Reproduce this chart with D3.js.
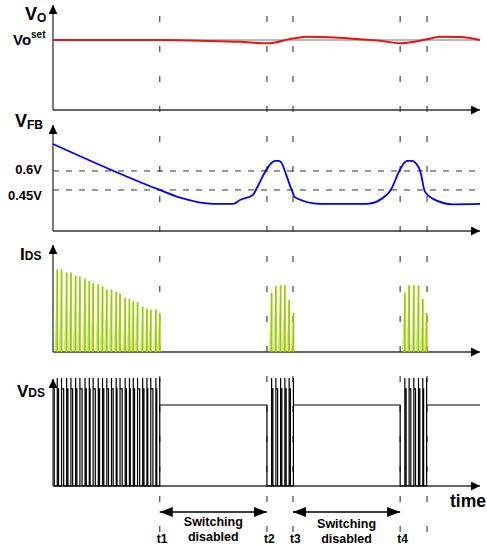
<!DOCTYPE html>
<html>
<head>
<meta charset="utf-8">
<script src="https://cdn.jsdelivr.net/npm/d3@7"></script>
<style>
  body { margin: 0; background: #fff; }
  svg { display: block; font-family: Arial, "Liberation Sans", sans-serif; font-weight: bold; }
</style>
</head>
<body>
<svg id="chart" width="487" height="545"></svg>
<script>
// time runs 0..100 (arbitrary units) along every panel
var markers = [25, 50.1, 56.2, 81.3, 87.6];
var markerLabels = ["t1", "t2", "t3", "t4"];

// output voltage vs. its set point (1 = Vo set)
var voTime  = [0, 25, 34.4, 43.8, 50.1, 56.2, 59.5, 64.9, 71.9, 76.6, 81.3, 87.6, 90.6, 95.3, 100];
var voValue = [1.0, 1.0, 0.99, 0.975, 0.953, 1.02, 1.045, 1.04, 1.01, 0.99, 0.953, 1.01, 1.047, 1.043, 1.0];

// feedback voltage (V)
var fbTime  = [0, 25, 30, 37.5, 42.2, 43.8, 46.8, 47.5, 49.8, 51.2, 52.0, 52.9, 53.6, 54.3, 55.9, 56.7, 62.5,
               73.5, 78.1, 79.1, 81.1, 82.3, 82.9, 84.2, 85.0, 86.0, 87.1, 89.1, 93.7, 100];
var fbValue = [0.813, 0.45, 0.387, 0.34, 0.34, 0.371, 0.41, 0.45, 0.6, 0.665, 0.68, 0.68, 0.66, 0.6, 0.45, 0.39, 0.34,
               0.34, 0.41, 0.45, 0.6, 0.665, 0.68, 0.68, 0.66, 0.6, 0.437, 0.378, 0.337, 0.34];
var fbTicks = [0.6, 0.45];

// drain current pulses: turn-off time and peak (relative)
var idsTime1 = [1.0, 2.0, 3.2, 4.2, 5.3, 6.3, 7.5, 8.5, 9.4, 10.6, 11.6, 12.6, 13.7, 14.8, 15.7, 16.9, 17.9, 18.8, 19.8, 21.0, 22.0, 22.9, 24.1, 25.0];
var idsPeak1 = [0.78, 0.78, 0.75, 0.75, 0.72, 0.71, 0.69, 0.67, 0.65, 0.64, 0.62, 0.59, 0.59, 0.57, 0.55, 0.51, 0.50, 0.48, 0.47, 0.43, 0.41, 0.40, 0.40, 0.37];
var idsTime2 = [51.2, 52.2, 53.3, 54.3, 55.3, 56.3];
var idsPeak2 = [0.56, 0.62, 0.63, 0.63, 0.49, 0.37];
var idsTime3 = [82.4, 83.4, 84.5, 85.6, 86.6, 87.5];
var idsPeak3 = [0.56, 0.63, 0.63, 0.63, 0.50, 0.37];
var onTime = 0.7;

// drain voltage levels (relative)
var vdsHigh = 0.9, vdsSpike = 1.0, vdsRest = 0.75;

var switchText = ["Switching", "disabled"];

var svg = d3.select("#chart");
var left = 53, right = 480;

var x = d3.scaleLinear().domain([0, 100]).range([left, right]);
var yVo = d3.scaleLinear().domain([0, 1.5]).range([110, 5]);
var yFb = d3.scaleLinear().domain([0.126, 0.955]).range([231, 126]);
var yIds = d3.scaleLinear().domain([0, 1]).range([352, 246]);
var yVds = d3.scaleLinear().domain([0, 1]).range([486, 378]);

var defs = svg.append("defs");
defs.append("marker").attr("id", "ax")
    .attr("markerUnits", "userSpaceOnUse")
    .attr("markerWidth", 10).attr("markerHeight", 10)
    .attr("refX", 9).attr("refY", 4.5).attr("orient", "auto")
  .append("path").attr("d", "M0,0 L9,4.5 L0,9 Z").attr("fill", "#000");
defs.append("marker").attr("id", "big")
    .attr("markerUnits", "userSpaceOnUse")
    .attr("markerWidth", 14).attr("markerHeight", 11)
    .attr("refX", 13).attr("refY", 5).attr("orient", "auto-start-reverse")
  .append("path").attr("d", "M0,0 L13,5 L0,10 Z").attr("fill", "#000");

// vertical time markers
svg.selectAll(".marker")
    .data(markers)
  .enter().append("line")
    .attr("class", "marker")
    .attr("x1", function(d) { return x(d); })
    .attr("x2", function(d) { return x(d); })
    .attr("y1", 16).attr("y2", 545)
    .attr("stroke", "#444").attr("stroke-width", 1.2)
    .attr("stroke-dasharray", "6,24");

// axes with arrowheads
var panels = [{top: 5, bottom: 110}, {top: 125, bottom: 231}, {top: 245, bottom: 352}, {top: 379, bottom: 486}];
panels.forEach(function(p) {
  svg.append("line")
      .attr("x1", left).attr("x2", left).attr("y1", p.bottom).attr("y2", p.top)
      .attr("stroke", "#333").attr("stroke-width", 1.3).attr("marker-end", "url(#ax)");
  svg.append("line")
      .attr("x1", left).attr("x2", right).attr("y1", p.bottom).attr("y2", p.bottom)
      .attr("stroke", "#333").attr("stroke-width", 1.3).attr("marker-end", "url(#ax)");
});

// Vo panel
svg.append("line")
    .attr("x1", left).attr("x2", right).attr("y1", yVo(1)).attr("y2", yVo(1))
    .attr("stroke", "#777").attr("stroke-width", 1);
var voData = voTime.map(function(t, i) { return [t, voValue[i]]; });
svg.append("path")
    .datum(voData)
    .attr("fill", "none").attr("stroke", "#ee1111").attr("stroke-width", 2)
    .attr("d", d3.line()
      .x(function(d) { return x(d[0]); })
      .y(function(d) { return yVo(d[1]); })
      .curve(d3.curveMonotoneX));

// VFB panel
svg.selectAll(".fbgrid")
    .data(fbTicks)
  .enter().append("line")
    .attr("class", "fbgrid")
    .attr("x1", left).attr("x2", right)
    .attr("y1", function(d) { return yFb(d); })
    .attr("y2", function(d) { return yFb(d); })
    .attr("stroke", "#333").attr("stroke-width", 1)
    .attr("stroke-dasharray", "6,7");
var fbAxis = svg.append("g")
    .attr("transform", "translate(" + left + ",0)")
    .call(d3.axisLeft(yFb).tickValues(fbTicks).tickSize(0).tickPadding(11)
      .tickFormat(function(d) { return d + "V"; }));
fbAxis.select(".domain").remove();
fbAxis.selectAll("text")
    .attr("font-size", 13).attr("font-weight", "bold").attr("fill", "#000")
    .attr("font-family", "Arial, 'Liberation Sans', sans-serif")
    .attr("dy", function(d, i) { return i === 0 ? "0.2em" : "0.75em"; });

var fbData = fbTime.map(function(t, i) { return [t, fbValue[i]]; });
svg.append("path")
    .datum(fbData)
    .attr("fill", "none").attr("stroke", "#0000ff").attr("stroke-width", 1.8)
    .attr("d", d3.line()
      .x(function(d) { return x(d[0]); })
      .y(function(d) { return yFb(d[1]); })
      .curve(d3.curveMonotoneX));

// IDS panel
var idsData = [];
[[idsTime1, idsPeak1], [idsTime2, idsPeak2], [idsTime3, idsPeak3]].forEach(function(b) {
  b[0].forEach(function(t, i) { idsData.push({t: t, peak: b[1][i]}); });
});
svg.selectAll(".ramp")
    .data(idsData)
  .enter().append("path")
    .attr("class", "ramp")
    .attr("d", function(d) {
      return "M" + x(d.t - onTime) + "," + yIds(0) + "L" + x(d.t) + "," + yIds(d.peak) + "L" + x(d.t) + "," + yIds(0) + "Z";
    })
    .attr("fill", "#99cc00").attr("fill-opacity", 0.45);
svg.selectAll(".spike")
    .data(idsData)
  .enter().append("line")
    .attr("class", "spike")
    .attr("x1", function(d) { return x(d.t); })
    .attr("x2", function(d) { return x(d.t); })
    .attr("y1", yIds(0))
    .attr("y2", function(d) { return yIds(d.peak); })
    .attr("stroke", "#99cc00").attr("stroke-width", 1.8);

// VDS panel
var vdsPts = [[0, vdsHigh]];
function addBurst(times) {
  times.forEach(function(t) {
    var lvl = vdsPts[vdsPts.length - 1][1];
    vdsPts.push([t - onTime, lvl], [t - onTime, 0], [t, 0], [t, vdsSpike], [t, vdsHigh]);
  });
  vdsPts.push([times[times.length - 1], vdsRest]);
}
addBurst(idsTime1);
vdsPts.push([markers[1], vdsRest], [markers[1], 0]);
addBurst(idsTime2);
vdsPts.push([markers[3], vdsRest], [markers[3], 0]);
addBurst(idsTime3);
vdsPts.push([100, vdsRest]);

svg.append("path")
    .datum(vdsPts)
    .attr("fill", "none").attr("stroke", "#000").attr("stroke-width", 1.2)
    .attr("d", d3.line()
      .x(function(d) { return x(d[0]); })
      .y(function(d) { return yVds(d[1]); }));

// switching disabled arrows
var gaps = [[markers[0], markers[1], 526], [markers[2], markers[3], 528]];
gaps.forEach(function(g) {
  svg.append("line")
      .attr("x1", x(g[0])).attr("x2", x(g[1])).attr("y1", 512).attr("y2", 512)
      .attr("stroke", "#000").attr("stroke-width", 1.5)
      .attr("marker-start", "url(#big)").attr("marker-end", "url(#big)");
  var cx = (x(g[0]) + x(g[1])) / 2;
  switchText.forEach(function(s, i) {
    svg.append("text")
        .attr("x", cx).attr("y", g[2] + i * 14.5)
        .attr("text-anchor", "middle").attr("font-size", 12.5)
        .text(s);
  });
});

// t labels
svg.selectAll(".tlab")
    .data(markerLabels)
  .enter().append("text")
    .attr("class", "tlab")
    .attr("x", function(d, i) { return x(markers[i]) - 3; })
    .attr("y", 543)
    .attr("font-size", 12)
    .text(function(d) { return d; });

// panel titles
function title(xp, yp, main, sub, mainSize, subSize, dy) {
  var t = svg.append("text").attr("x", xp).attr("y", yp);
  t.append("tspan").attr("font-size", mainSize).text(main);
  t.append("tspan").attr("font-size", subSize).attr("dy", dy).text(sub);
}
title(25, 20, "V", "O", 18, 12, 2);
title(13, yVo(1) + 5, "Vo", "set", 15, 10, -7);
title(15, 127, "V", "FB", 18, 12, 2);
title(20, 260, "I", "DS", 17, 12, 0);
title(17, 397, "V", "DS", 17, 12, 0);

svg.append("text").attr("x", 450).attr("y", 507).attr("font-size", 17.5).text("time");
</script>
</body>
</html>
